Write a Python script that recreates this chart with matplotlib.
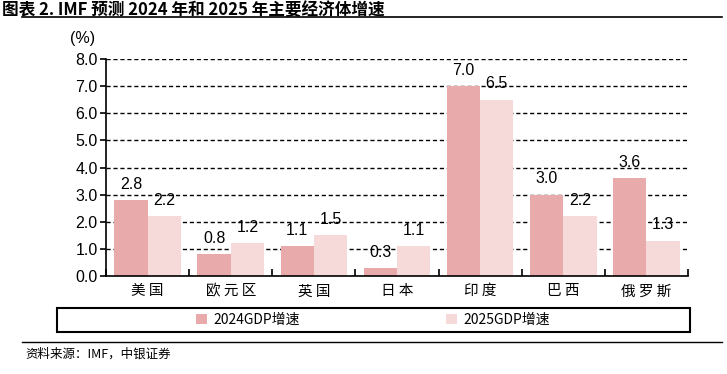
import numpy as np
import matplotlib.pyplot as plt
from matplotlib.patches import Rectangle
from matplotlib.lines import Line2D

plt.rcParams['font.family'] = ['Noto Sans CJK SC', 'DejaVu Sans']

# 数据
countries = ['美国', '欧元区', '英国', '日本', '印度', '巴西', '俄罗斯']
gdp_2024 = [2.8, 0.8, 1.1, 0.3, 7.0, 3.0, 3.6]
gdp_2025 = [2.2, 1.2, 1.5, 1.1, 6.5, 2.2, 1.3]
series_names = ['2024GDP增速', '2025GDP增速']
yticks = [0, 1, 2, 3, 4, 5, 6, 7, 8]

c_2024 = '#E8AAAA'
c_2025 = '#F6D9D9'
num_font = 'Liberation Sans'

W, H = 727, 374
fig = plt.figure(figsize=(W / 100, H / 100), dpi=100)
ax = fig.add_axes([106 / W, 1 - 276 / H, (688 - 106) / W, (276 - 59) / H])

x = np.arange(len(countries))
w = 0.4
b1 = ax.bar(x - w / 2, gdp_2024, w, color=c_2024, zorder=2, label=series_names[0])
b2 = ax.bar(x + w / 2, gdp_2025, w, color=c_2025, zorder=2, label=series_names[1])

for bars, vals in ((b1, gdp_2024), (b2, gdp_2025)):
    for r, v in zip(bars, vals):
        ax.annotate(f'{v:.1f}', (r.get_x() + r.get_width() / 2, v),
                    xytext=(0, 6), textcoords='offset points',
                    ha='center', va='bottom', fontsize=11.5,
                    family=num_font, zorder=3)

ax.set_xlim(-0.5, len(countries) - 0.5)
ax.set_ylim(0, 8)
ax.set_yticks(yticks)
ax.set_yticklabels([f'{t:.1f}' for t in yticks], fontsize=11.5, family=num_font)
ax.set_xticks(np.arange(len(countries) + 1) - 0.5)
ax.set_xticklabels([])
ax.set_xticks(x, minor=True)
ax.set_xticklabels([' '.join(c) for c in countries], minor=True, fontsize=10.5)
ax.tick_params(axis='x', which='minor', length=0, pad=6)
ax.tick_params(axis='x', which='major', direction='in', length=5, width=1.2)
ax.tick_params(axis='y', direction='out', length=4, width=1.2, pad=2)

for s in ['top', 'right']:
    ax.spines[s].set_visible(False)
ax.spines['left'].set_linewidth(1.2)
ax.spines['bottom'].set_linewidth(1.2)

ax.yaxis.grid(True, linestyle=(0, (3, 2)), color='black', linewidth=1.0, zorder=0)
ax.set_axisbelow(True)

fig.text(83 / W, 1 - 38 / H, '(%)', ha='center', va='center', fontsize=11.5,
         family=num_font)

# 标题
fig.text(2 / W, 1 - 1 / H, '图表 2. IMF 预测 2024 年和 2025 年主要经济体增速',
         ha='left', va='top', fontsize=12, fontweight='bold')
fig.add_artist(Line2D([22 / W, 722 / W], [1 - 17 / H, 1 - 17 / H],
                      color='black', linewidth=1.2, transform=fig.transFigure))

# 图例
fig.add_artist(Rectangle((57 / W, 1 - 332 / H), (690 - 57) / W, 24 / H,
                         fill=False, edgecolor='black', linewidth=1.5,
                         transform=fig.transFigure))
fig.legend(handles=[b1, b2], loc='center', bbox_to_anchor=(373 / W, 1 - 320 / H),
           ncol=2, frameon=False, fontsize=10, handlelength=0.8, handleheight=0.8,
           handletextpad=0.5, columnspacing=10.5)

# 来源
fig.add_artist(Line2D([22 / W, 722 / W], [1 - 342 / H, 1 - 342 / H],
                      color='black', linewidth=1.0, transform=fig.transFigure))
fig.text(25 / W, 1 - 354 / H, '资料来源：IMF，中银证券', ha='left', va='center',
         fontsize=9, style='italic')

fig.savefig('out.png', dpi=100)
